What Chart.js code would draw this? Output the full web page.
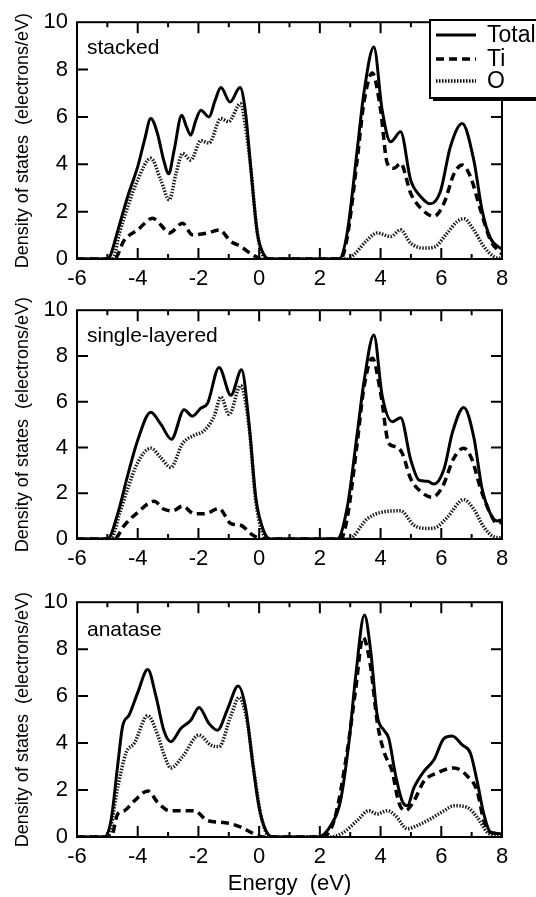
<!DOCTYPE html>
<html>
<head>
<meta charset="utf-8">
<script src="https://cdn.jsdelivr.net/npm/chart.js@4.4.1/dist/chart.umd.min.js"></script>
<style>
  html, body { margin: 0; padding: 0; background: #fff; }
  body { width: 536px; height: 897px; position: relative; overflow: hidden; }
  canvas { position: absolute; left: 0; }
</style>
</head>
<body>
<canvas id="dos-stacked" width="536" height="300" style="top:0"></canvas>
<canvas id="dos-single" width="536" height="292" style="top:288px"></canvas>
<canvas id="dos-anatase" width="536" height="317" style="top:580px"></canvas>
<script>
"use strict";

const FONT = "'Liberation Sans', Arial, Helvetica, sans-serif";

const seriesLabels = ["Total", "Ti", "O"];
const panelNames = ["stacked", "single-layered", "anatase"];
const xTicks = [-6, -4, -2, 0, 2, 4, 6, 8];
const yTicks = [0, 2, 4, 6, 8, 10];

// [energy (eV), DOS (electrons/eV)]
const stackedTotal = [[-6,0],[-5.0,0],[-4.9,0.15],[-4.7,1.0],[-4.33,2.64],[-4.0,3.9],[-3.78,5.0],[-3.57,5.93],[-3.35,5.3],[-3.15,4.2],[-2.98,3.6],[-2.8,4.6],[-2.55,6.07],[-2.4,5.6],[-2.25,5.23],[-2.1,5.8],[-1.92,6.28],[-1.65,6.0],[-1.45,6.7],[-1.26,7.24],[-0.96,6.63],[-0.63,7.24],[-0.45,6.2],[-0.28,3.9],[-0.06,1.1],[0.16,0.18],[0.38,0],[2.63,0],[2.9,1.1],[3.23,4.6],[3.45,7.0],[3.78,8.95],[4.05,6.3],[4.33,4.95],[4.66,5.37],[4.99,3.34],[5.32,2.64],[5.64,2.33],[5.97,2.85],[6.3,4.74],[6.69,5.72],[7.07,4.18],[7.34,2.08],[7.62,0.88],[8,0.4]];
const stackedTi = [[-6,0],[-4.77,0],[-4.44,0.8],[-4.0,1.23],[-3.51,1.72],[-3.24,1.44],[-2.96,1.1],[-2.52,1.51],[-2.2,1.02],[-1.7,1.1],[-1.32,1.23],[-0.93,0.74],[-0.61,0.53],[-0.22,0.18],[0.1,0],[2.68,0],[2.9,0.9],[3.23,4.2],[3.45,6.6],[3.73,7.85],[4.0,6.3],[4.22,4.04],[4.44,3.83],[4.66,4.04],[4.99,2.78],[5.32,2.15],[5.76,1.8],[6.09,2.36],[6.42,3.6],[6.69,3.97],[6.96,3.48],[7.29,2.08],[7.62,0.8],[8,0.2]];
const stackedO = [[-6,0],[-4.83,0],[-4.6,1.1],[-4.33,2.2],[-4.0,3.34],[-3.57,4.25],[-3.24,3.34],[-2.96,2.5],[-2.74,3.6],[-2.52,4.46],[-2.25,4.18],[-1.92,5.0],[-1.65,4.9],[-1.26,5.93],[-1.01,5.8],[-0.61,6.56],[-0.45,5.6],[-0.28,3.9],[-0.06,1.1],[0.15,0.1],[0.35,0],[2.9,0],[3.12,0.18],[3.56,0.8],[3.89,1.1],[4.33,0.95],[4.66,1.23],[4.99,0.67],[5.43,0.46],[5.76,0.5],[6.2,1.1],[6.52,1.58],[6.74,1.7],[7.07,1.23],[7.4,0.53],[7.73,0.1],[8,0.02]];

const singleTotal = [[-6,0],[-4.99,0],[-4.66,1.1],[-4.33,2.78],[-4.0,4.32],[-3.57,5.54],[-3.24,5.02],[-2.89,4.36],[-2.47,5.65],[-2.2,5.37],[-1.92,5.72],[-1.7,5.93],[-1.32,7.5],[-0.93,6.28],[-0.58,7.4],[-0.33,5.0],[-0.11,1.8],[0.16,0.32],[0.38,0],[2.57,0],[2.9,1.37],[3.23,4.6],[3.45,6.84],[3.78,8.92],[4.05,6.28],[4.38,5.13],[4.66,5.3],[4.99,3.48],[5.27,2.57],[5.55,2.52],[5.76,2.4],[6.09,3.06],[6.37,4.67],[6.74,5.75],[7.07,4.46],[7.34,2.22],[7.62,1.1],[7.84,0.79],[8,0.84]];
const singleTi = [[-6,0],[-4.77,0],[-4.44,0.6],[-4.0,1.16],[-3.46,1.65],[-3.13,1.3],[-2.85,1.23],[-2.52,1.44],[-2.14,1.1],[-1.81,1.1],[-1.32,1.33],[-0.93,0.67],[-0.61,0.6],[-0.22,0.18],[0.1,0],[2.68,0],[2.9,0.9],[3.23,4.2],[3.45,6.6],[3.73,7.9],[4.0,6.4],[4.27,4.18],[4.49,4.04],[4.71,3.76],[4.99,2.64],[5.32,2.08],[5.7,1.82],[6.04,2.29],[6.42,3.55],[6.74,3.97],[7.01,3.48],[7.29,2.22],[7.62,1.1],[7.84,0.67],[8,0.74]];
const singleO = [[-6,0],[-4.88,0],[-4.6,1.1],[-4.33,2.2],[-4.0,3.34],[-3.57,3.97],[-3.24,3.55],[-2.91,3.13],[-2.52,4.18],[-2.14,4.53],[-1.81,4.74],[-1.48,5.37],[-1.26,6.21],[-0.99,5.44],[-0.61,6.7],[-0.33,4.88],[-0.11,1.65],[0.16,0.15],[0.35,0],[2.95,0],[3.56,0.88],[4.0,1.16],[4.66,1.23],[5.1,0.6],[5.55,0.46],[5.86,0.53],[6.2,0.95],[6.74,1.72],[7.07,1.3],[7.4,0.53],[7.73,0.1],[8,0.05]];

const anataseTotal = [[-6,0],[-5.1,0],[-4.88,0.7],[-4.66,3.05],[-4.5,4.7],[-4.28,5.2],[-4.0,6.15],[-3.67,7.13],[-3.4,6.0],[-3.13,4.5],[-2.91,4.06],[-2.58,4.62],[-2.25,4.97],[-1.98,5.52],[-1.65,4.83],[-1.37,4.55],[-1.04,5.45],[-0.69,6.43],[-0.44,5.45],[-0.22,3.22],[0.0,1.26],[0.22,0.28],[0.45,0],[1.92,0],[2.36,0.49],[2.68,1.54],[2.96,4.06],[3.18,6.85],[3.47,9.45],[3.67,7.97],[3.89,5.17],[4.11,4.55],[4.27,4.2],[4.49,2.66],[4.71,1.54],[4.88,1.33],[5.1,2.1],[5.43,2.8],[5.76,3.29],[6.09,4.2],[6.36,4.3],[6.69,3.92],[6.96,3.57],[7.18,2.38],[7.4,0.98],[7.62,0.21],[8,0.14]];
const anataseTi = [[-6,0],[-4.88,0],[-4.66,0.98],[-4.44,1.12],[-4.11,1.54],[-3.67,1.96],[-3.34,1.47],[-2.96,1.12],[-2.52,1.12],[-2.14,1.12],[-1.7,0.7],[-1.26,0.63],[-0.93,0.56],[-0.6,0.42],[-0.17,0.14],[0.15,0],[2.03,0],[2.47,0.7],[2.9,3.64],[3.18,6.29],[3.42,8.5],[3.67,7.27],[3.89,4.9],[4.11,3.64],[4.38,2.8],[4.6,1.47],[4.82,1.12],[5.1,1.54],[5.43,2.38],[5.86,2.73],[6.42,2.94],[6.86,2.59],[7.18,1.96],[7.4,0.7],[7.62,0.2],[8,0.14]];
const anataseO = [[-6,0],[-5.0,0],[-4.66,2.1],[-4.39,3.57],[-4.11,4.0],[-3.67,5.17],[-3.34,4.34],[-3.13,3.5],[-2.91,2.94],[-2.52,3.43],[-1.98,4.34],[-1.6,3.92],[-1.32,3.85],[-0.93,5.17],[-0.66,5.94],[-0.39,4.9],[-0.17,2.8],[0.05,0.98],[0.27,0.1],[0.45,0],[2.36,0],[2.79,0.21],[3.23,0.7],[3.61,1.12],[3.89,0.98],[4.22,1.12],[4.49,0.91],[4.88,0.35],[5.21,0.49],[5.64,0.77],[6.09,1.12],[6.42,1.33],[6.86,1.26],[7.18,0.84],[7.51,0.21],[7.73,0.05],[8,0]];

function toPoints(pairs) {
    return pairs.map(p => ({x: p[0], y: p[1]}));
}

// inward tick marks and the box round the plot
const frameTicks = {
    id: "frameTicks",
    afterDatasetsDraw(chart) {
        const {ctx, chartArea: a, scales: {x, y}} = chart;
        ctx.save();
        ctx.strokeStyle = "#000";
        ctx.lineWidth = 2;
        ctx.beginPath();
        for (let v = x.min + 1; v < x.max; v++) {
            const px = x.getPixelForValue(v);
            const len = v % 2 === 0 ? 11 : 5;
            ctx.moveTo(px, a.bottom); ctx.lineTo(px, a.bottom - len);
            ctx.moveTo(px, a.top); ctx.lineTo(px, a.top + len);
        }
        yTicks.slice(1, -1).forEach(v => {
            const py = y.getPixelForValue(v);
            ctx.moveTo(a.left, py); ctx.lineTo(a.left + 11, py);
            ctx.moveTo(a.right, py); ctx.lineTo(a.right - 11, py);
        });
        ctx.stroke();
        ctx.strokeRect(a.left, a.top, a.right - a.left, a.bottom - a.top);
        ctx.restore();
    }
};

const panelLabel = {
    id: "panelLabel",
    afterDraw(chart, args, opts) {
        const {ctx, chartArea: a} = chart;
        ctx.save();
        ctx.fillStyle = "#000";
        ctx.font = `21px ${FONT}`;
        ctx.textBaseline = "middle";
        ctx.fillText(opts.text, a.left + 10, a.top + opts.dy);
        ctx.restore();
    }
};

// legend box sitting over the top right corner of the first panel
const boxLegend = {
    id: "boxLegend",
    afterDraw(chart, args, opts) {
        if (!opts.show) return;
        const ctx = chart.ctx;
        const left = 430, top = 20, bottom = 98, right = 560;
        ctx.save();
        ctx.fillStyle = "#000";
        ctx.fillRect(left + 3, top + 3, right - left, bottom - top);
        ctx.fillStyle = "#fff";
        ctx.fillRect(left, top, right - left, bottom - top);
        ctx.strokeStyle = "#000";
        ctx.lineWidth = 2;
        ctx.strokeRect(left, top, right - left, bottom - top);
        const rows = [35, 59, 81];
        chart.data.datasets.forEach((ds, i) => {
            ctx.beginPath();
            ctx.lineWidth = ds.borderWidth;
            ctx.setLineDash(ds.borderDash || []);
            ctx.moveTo(436, rows[i]);
            ctx.lineTo(476, rows[i]);
            ctx.stroke();
            ctx.setLineDash([]);
            ctx.fillStyle = "#000";
            ctx.font = `23px ${FONT}`;
            ctx.textBaseline = "middle";
            ctx.fillText(ds.label, 487, rows[i] + 1);
        });
        ctx.restore();
    }
};

function buildDatasets(total, ti, o) {
    return [
        {label: seriesLabels[0], data: toPoints(total), borderColor: "#000", borderWidth: 3},
        {label: seriesLabels[1], data: toPoints(ti), borderColor: "#000", borderWidth: 3.5, borderDash: [8, 5]},
        {label: seriesLabels[2], data: toPoints(o), borderColor: "#1a1a1a", borderWidth: 3.5, borderDash: [1.5, 1.5]}
    ];
}

function buildDosChart(selector, name, total, ti, o, layout) {
    const ctx = document.querySelector(selector).getContext("2d");
    const configuration = {
        type: "line",
        data: {datasets: buildDatasets(total, ti, o)},
        options: {
            responsive: false,
            animation: false,
            devicePixelRatio: 1,
            layout: {padding: {top: layout.padTop, right: 34, left: 0, bottom: 0}},
            elements: {
                point: {radius: 0},
                line: {cubicInterpolationMode: "monotone", borderCapStyle: "butt"}
            },
            plugins: {
                legend: {display: false},
                tooltip: {enabled: false},
                panelLabel: {text: name, dy: layout.labelDy},
                boxLegend: {show: layout.legend}
            },
            scales: {
                x: {
                    type: "linear",
                    min: -6,
                    max: 8,
                    afterBuildTicks: s => { s.ticks = xTicks.map(v => ({value: v})); },
                    afterFit: s => { s.height = layout.xHeight; },
                    grid: {display: false, drawTicks: false},
                    border: {display: false},
                    ticks: {color: "#000", padding: 7, maxRotation: 0, font: {family: FONT, size: 22}},
                    title: {
                        display: layout.energyTitle,
                        text: "Energy  (eV)",
                        color: "#000",
                        padding: {bottom: 0},
                        font: {family: FONT, size: 22}
                    }
                },
                y: {
                    min: 0,
                    max: 10,
                    afterBuildTicks: s => { s.ticks = yTicks.map(v => ({value: v})); },
                    afterFit: s => { s.width = 77; },
                    grid: {display: false, drawTicks: false},
                    border: {display: false},
                    ticks: {color: "#000", padding: 9, font: {family: FONT, size: 22}},
                    title: {
                        display: true,
                        text: "Density of states  (electrons/eV)",
                        color: "#000",
                        padding: {top: 12},
                        font: {family: FONT, size: 18}
                    }
                }
            }
        },
        plugins: [frameTicks, panelLabel, boxLegend]
    };
    new Chart(ctx, configuration); //NOSONAR
}

buildDosChart("#dos-stacked", panelNames[0], stackedTotal, stackedTi, stackedO,
    {padTop: 22, xHeight: 41, labelDy: 26, legend: true, energyTitle: false});
buildDosChart("#dos-single", panelNames[1], singleTotal, singleTi, singleO,
    {padTop: 14, xHeight: 41, labelDy: 26, legend: false, energyTitle: false});
buildDosChart("#dos-anatase", panelNames[2], anataseTotal, anataseTi, anataseO,
    {padTop: 18, xHeight: 60, labelDy: 28, legend: false, energyTitle: true});
</script>
</body>
</html>
